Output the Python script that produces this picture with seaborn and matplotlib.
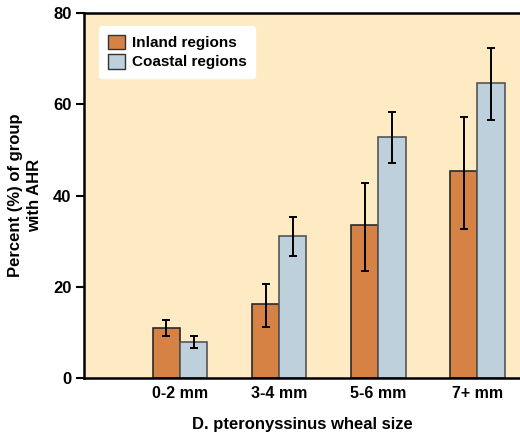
import numpy as np
import pandas as pd
import seaborn as sns
import matplotlib.pyplot as plt
from matplotlib.patches import Patch

categories = ["0-2 mm", "3-4 mm", "5-6 mm", "7+ mm"]
series = ["Inland regions", "Coastal regions"]
inland = [10.9, 16.2, 33.5, 45.3]
coastal = [8.0, 31.2, 52.9, 64.6]
inland_lo = [9.1, 11.2, 23.5, 32.6]
inland_hi = [12.7, 20.5, 42.7, 57.1]
coastal_lo = [6.5, 26.8, 47.1, 56.5]
coastal_hi = [9.1, 35.3, 58.2, 72.3]
yticks = [0, 20, 40, 60, 80]

colors = {"Inland regions": "#D68244", "Coastal regions": "#BDD0DC"}
edges = {"Inland regions": "#2a2a2a", "Coastal regions": "#555555"}

df = pd.DataFrame({
    "size": categories * 2,
    "region": [series[0]] * 4 + [series[1]] * 4,
    "pct": inland + coastal,
})

sns.set_theme(style="white")
plt.rcParams["font.family"] = ["Liberation Sans", "DejaVu Sans"]
plt.rcParams["font.weight"] = "bold"
plt.rcParams["text.color"] = "black"
plt.rcParams["axes.labelcolor"] = "black"
plt.rcParams["xtick.color"] = "black"
plt.rcParams["ytick.color"] = "black"

fig = plt.figure(figsize=(5.2, 4.38), dpi=100)
ax = fig.add_axes([84 / 520, 60 / 438, 1 - 84 / 520, (378 - 13) / 438])
ax.set_facecolor("#FEEBC3")

width = 0.55
sns.barplot(data=df, x="size", y="pct", hue="region", order=categories,
            hue_order=series, palette=colors, width=width, errorbar=None,
            saturation=1, ax=ax, legend=False)

for i, p in enumerate(ax.patches[:8]):
    reg = series[0] if i < 4 else series[1]
    p.set_edgecolor(edges[reg])
    p.set_linewidth(1.2)

x = np.arange(len(categories))
off = width / 4
for xs, v, lo, hi in [(x - off, inland, inland_lo, inland_hi),
                      (x + off, coastal, coastal_lo, coastal_hi)]:
    v = np.array(v)
    yerr = np.vstack([v - np.array(lo), np.array(hi) - v])
    ax.errorbar(xs, v, yerr=yerr, fmt="none", ecolor="black", elinewidth=1.4,
                capsize=3, capthick=1.4, zorder=5)

ax.set_xlim(-0.97, 3.43)
ax.set_ylim(0, 80)
ax.set_yticks(yticks)
ax.set_yticklabels([str(t) for t in yticks], fontsize=12, fontweight="bold")
ax.set_xticks(x)
ax.set_xticklabels(categories, fontsize=11.5, fontweight="bold")
ax.tick_params(axis="y", direction="out", length=6, width=1.5, color="black", left=True, pad=3)
ax.tick_params(axis="x", length=0, pad=6)

for s in ["left", "bottom", "top"]:
    ax.spines[s].set_visible(True)
    ax.spines[s].set_color("black")
    ax.spines[s].set_linewidth(1.8)
ax.spines["right"].set_visible(False)

ax.set_ylabel("Percent (%) of group\nwith AHR", fontsize=12, fontweight="bold",
              linespacing=1.3, labelpad=8)
ax.set_xlabel("D. pteronyssinus wheal size", fontsize=12, fontweight="bold", labelpad=11)

handles = [Patch(facecolor=colors[s], edgecolor="#333333", linewidth=1.0, label=s) for s in series]
leg = ax.legend(handles=handles, loc="upper left", bbox_to_anchor=(0.018, 0.985),
                frameon=True, fancybox=True, framealpha=1, facecolor="white",
                edgecolor="white", prop={"weight": "bold", "size": 11},
                handlelength=1.1, handleheight=1.1, handletextpad=0.5,
                labelspacing=0.25, borderpad=0.55)

fig.savefig("out.png", dpi=100)
